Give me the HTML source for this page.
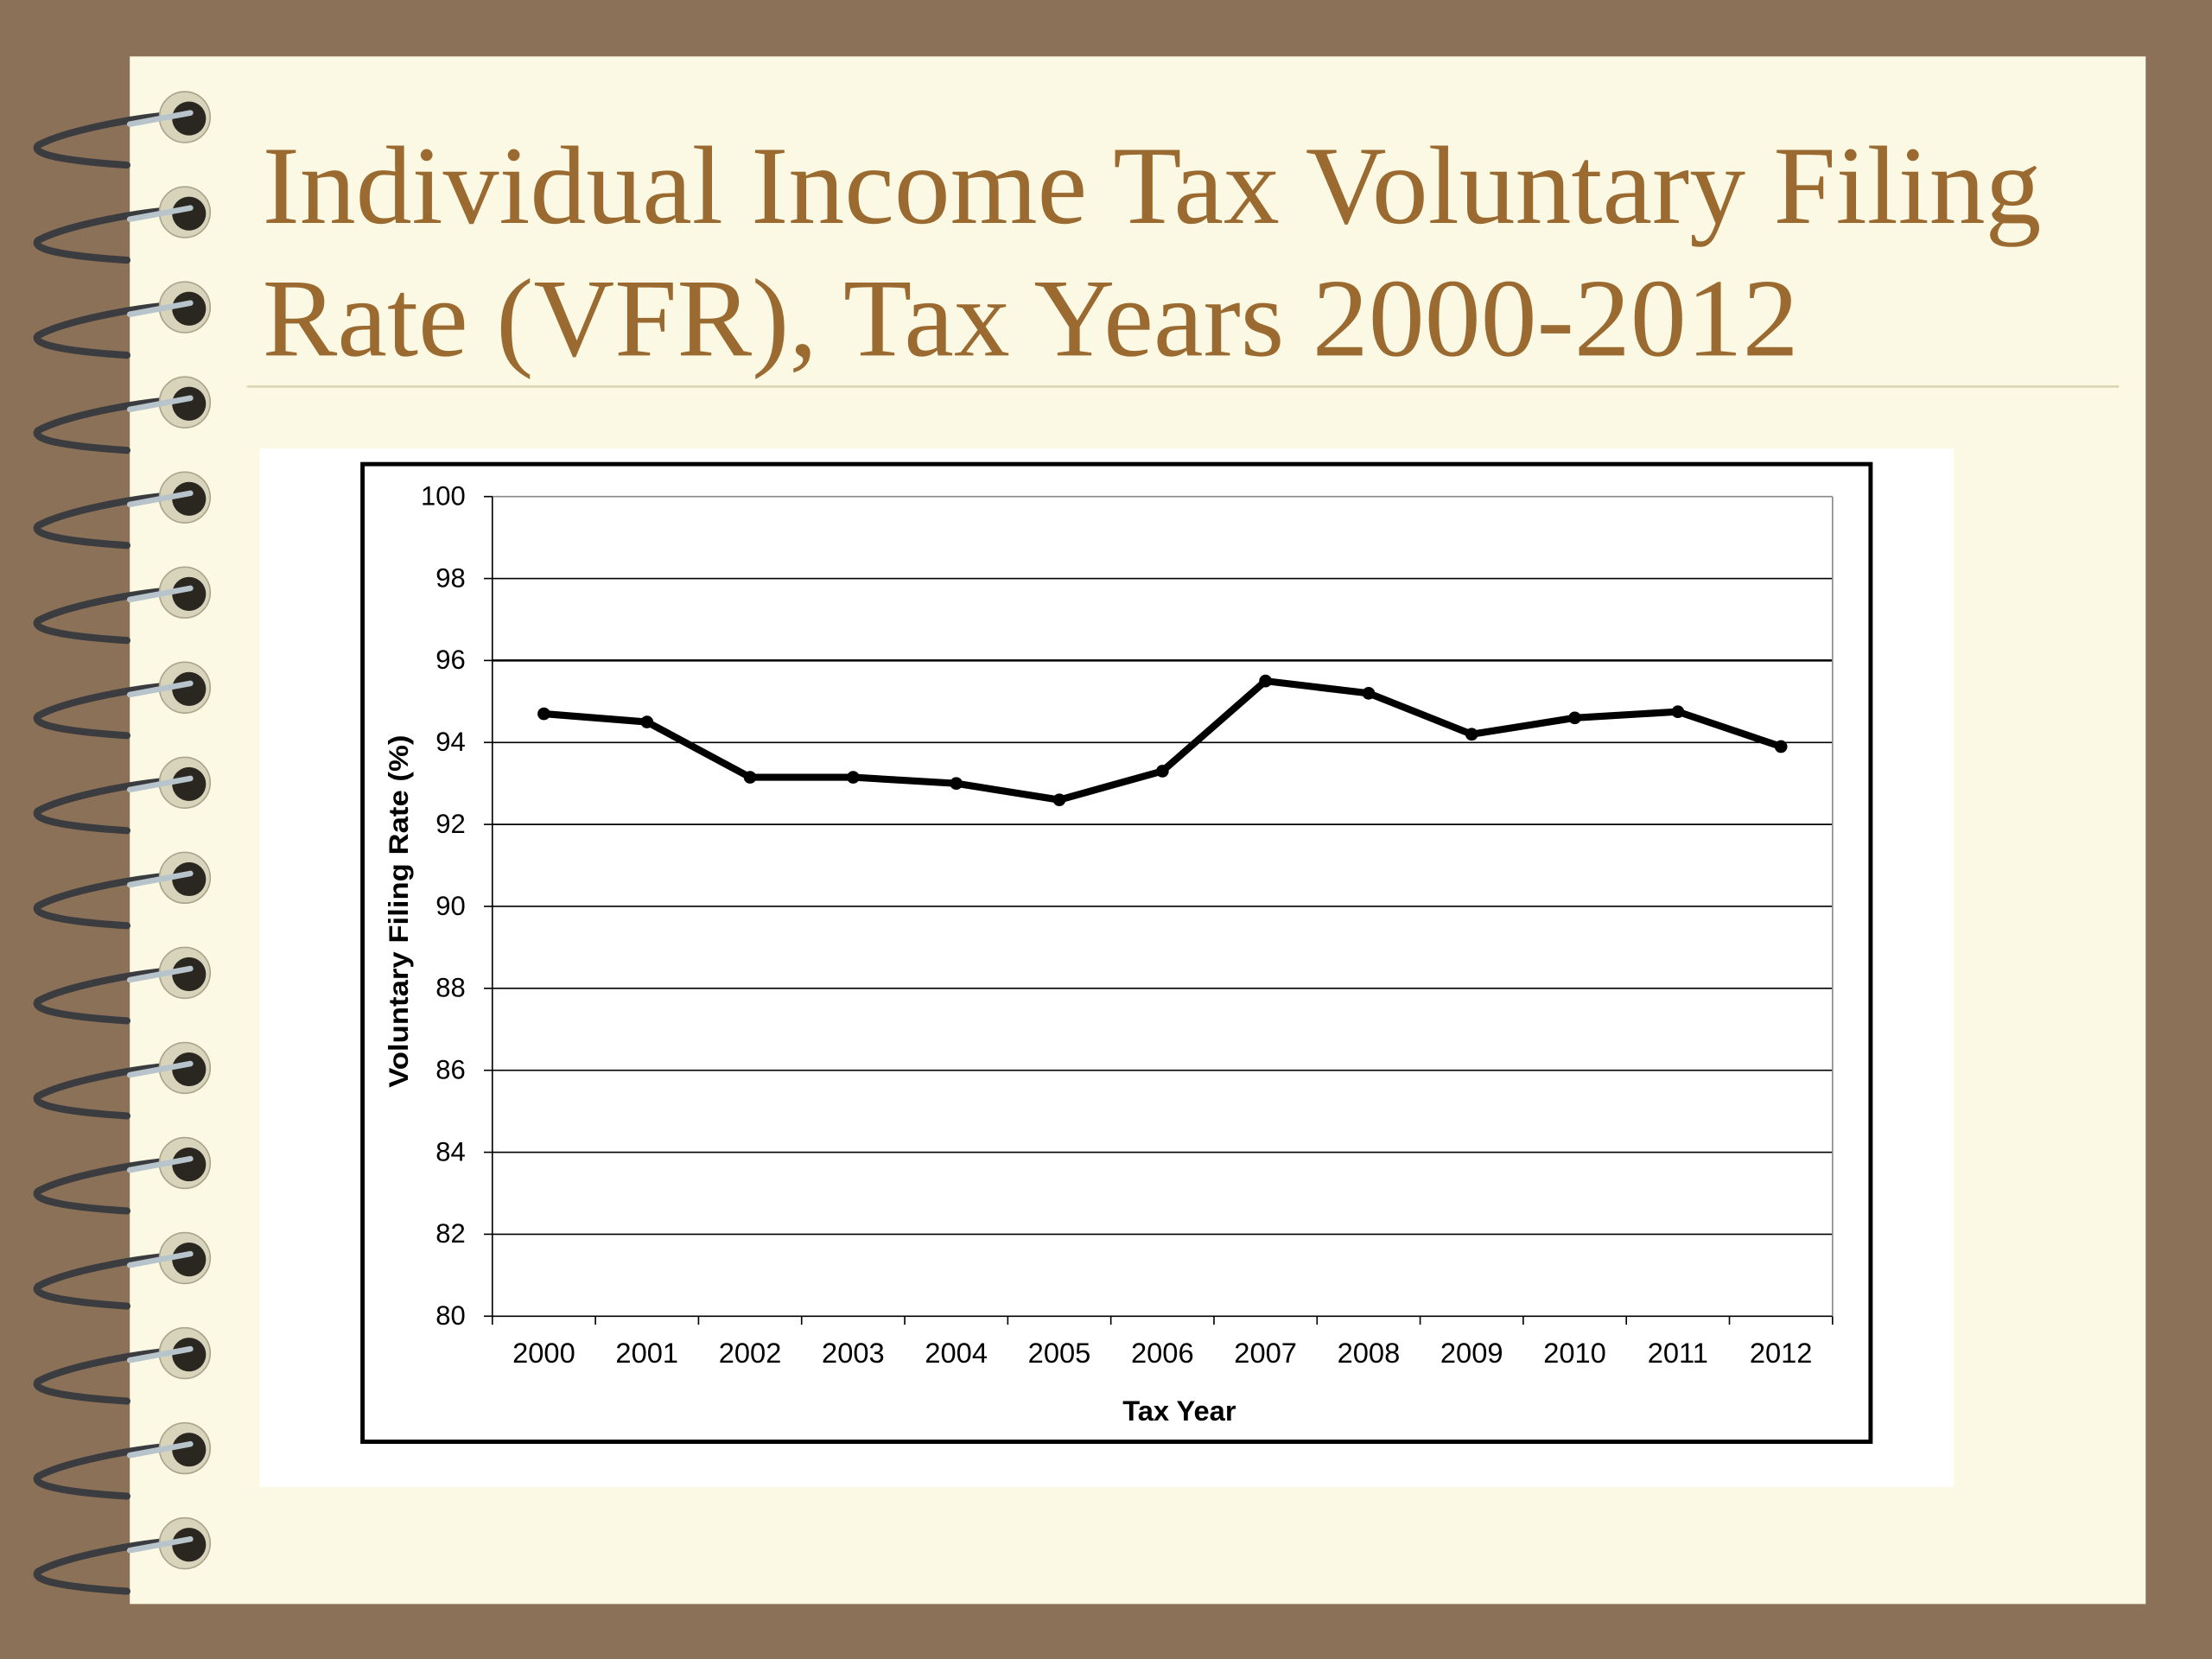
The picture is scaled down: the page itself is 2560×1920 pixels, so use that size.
<!DOCTYPE html>
<html><head><meta charset="utf-8"><style>
html,body{margin:0;padding:0;background:#8b7157;}
svg{display:block;}
</style></head><body>
<svg width="2560" height="1920" viewBox="0 0 1568 1176" xmlns="http://www.w3.org/2000/svg" font-family="Liberation Sans, sans-serif">
<rect x="0" y="0" width="1568" height="1176" fill="#8b7157"/>
<rect x="92" y="40" width="1429" height="1097" fill="#fbf9e3"/>
<g id="spirals"></g>
<text x="186" y="158" font-family="Liberation Serif, serif" font-size="79" textLength="1261" lengthAdjust="spacingAndGlyphs" fill="#9a6a30">Individual Income Tax Voluntary Filing</text>
<text x="186" y="252" font-family="Liberation Serif, serif" font-size="79" textLength="1089" lengthAdjust="spacingAndGlyphs" fill="#9a6a30">Rate (VFR), Tax Years 2000-2012</text>
<line x1="175" y1="274" x2="1502" y2="274" stroke="#d9d3b0" stroke-width="1.5"/>
<rect x="184" y="318" width="1201" height="736" fill="#ffffff"/>
<rect x="257" y="329" width="1069" height="693" fill="none" stroke="#000" stroke-width="3"/>
<g id="chart"></g>
<text transform="translate(289,646) rotate(-90)" text-anchor="middle" font-size="19" font-weight="bold" textLength="250" lengthAdjust="spacingAndGlyphs">Voluntary Filing Rate (%)</text>
<text x="836" y="1007" text-anchor="middle" font-size="20" font-weight="bold">Tax Year</text>
</svg>
<script>
const years=["2000","2001","2002","2003","2004","2005","2006","2007","2008","2009","2010","2011","2012"];
const vfr=[94.7,94.5,93.15,93.15,93.0,92.6,93.3,95.5,95.2,94.2,94.6,94.75,93.9];
const yTicks=[80,82,84,86,88,90,92,94,96,98,100];
const NS="http://www.w3.org/2000/svg";
const X0=349,X1=1299,Y0=933,Y1=352,YMIN=80,YMAX=100;
const yS=v=>Y0-(v-YMIN)/(YMAX-YMIN)*(Y0-Y1);
const bw=(X1-X0)/years.length;
const xS=i=>X0+bw*(i+0.5);
function mk(t,a,p){const e=document.createElementNS(NS,t);for(const k in a)e.setAttribute(k,a[k]);p.appendChild(e);return e;}
const g=document.getElementById('chart');
yTicks.forEach(v=>{
 const l=mk('line',{x1:X0,x2:X1,y1:yS(v),y2:yS(v),stroke:v===YMAX?'#888':'#000','stroke-width':v===96?1.5:1},g);
 
 
 const tk=mk('line',{x1:X0-6,x2:X0,y1:yS(v),y2:yS(v),stroke:'#000'},g);
 
 
 const t=mk('text',{x:X0-19,y:yS(v)+6,'text-anchor':'end','font-size':19},g);t.textContent=v;
 
 
});
const ax=mk('line',{x1:X0,x2:X0,y1:Y1,y2:Y0,stroke:'#000'},g);


const rx=mk('line',{x1:X1,x2:X1,y1:Y1,y2:Y0,stroke:'#888'},g);


for(let i=0;i<=years.length;i++){
 const tk=mk('line',{x1:X0+bw*i,x2:X0+bw*i,y1:Y0,y2:Y0+6,stroke:'#000'},g);
 
 
}
years.forEach((y,i)=>{
 const t=mk('text',{x:xS(i),y:966,'text-anchor':'middle','font-size':20},g);t.textContent=y;
 
 
});
const pl=mk('polyline',{points:vfr.map((v,i)=>xS(i)+','+yS(v)).join(' '),fill:'none',stroke:'#000','stroke-width':5,'stroke-linejoin':'round'},g);


vfr.forEach((v,i)=>{
 const c=mk('circle',{cx:xS(i),cy:yS(v),r:4.5,fill:'#000'},g);
 
 
});
const sp=document.getElementById('spirals');
for(let k=0;k<16;k++){
 const cy=83+k*67.4;
 const w=mk('path',{d:`M128 ${cy-2} C 95 ${cy}, 45 ${cy+10}, 27 ${cy+20} C 20 ${cy+28}, 60 ${cy+32}, 90 ${cy+34}`,fill:'none',stroke:'#3a3c40','stroke-width':5,'stroke-linecap':'round'},sp);
 
 
 const h=mk('circle',{cx:131,cy:cy,r:18,fill:'#d8d4bb',stroke:'#a9a58c'},sp);
 
 
 const d=mk('circle',{cx:134,cy:cy+1,r:12,fill:'#2a2620'},sp);
 
 
 const s=mk('path',{d:`M92 ${cy+5} L 135 ${cy-3}`,stroke:'#b8c4cc','stroke-width':4,'stroke-linecap':'round'},sp);
 
 
}
</script>
</body></html>
